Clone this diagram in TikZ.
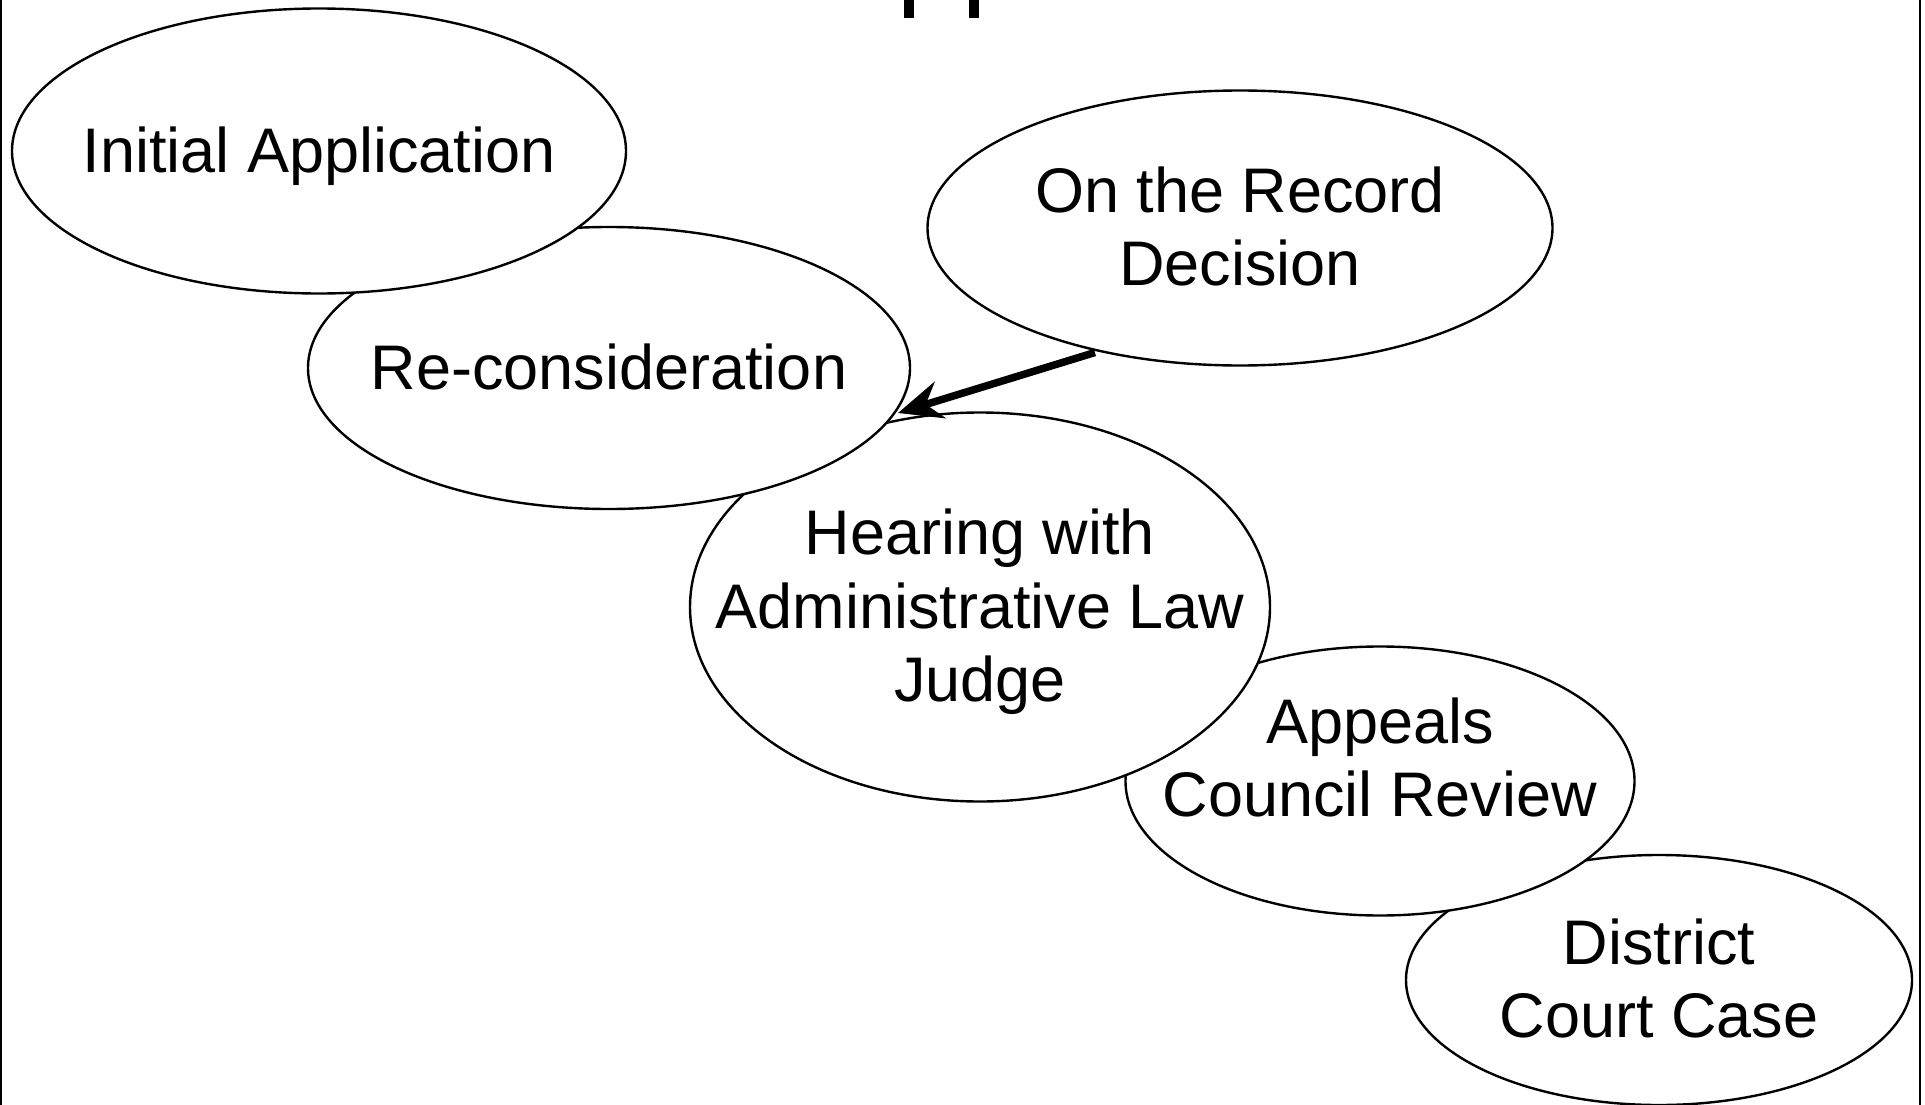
\documentclass[tikz,border=0pt]{standalone}
\usepackage{fontspec}
\setmainfont{Liberation Sans}
\usetikzlibrary{shapes.geometric,arrows.meta}
\newcommand\mytopstrut{\rule{0pt}{62pt}}
\newcommand\mybotstrut{\rule[-20pt]{0pt}{20pt}}
\tikzset{
  stage/.style={ellipse, draw=black, line width=2.4pt, fill=white, inner sep=0pt},
  txt/.style={align=center, font=\fontsize{63}{73.5}\selectfont, inner sep=0pt},
  arr/.style={line width=7.5pt, -{Stealth[length=44pt,width=38pt,inset=15pt]}},
  frameline/.style={line width=2.4pt},
}
\begin{document}
\begin{tikzpicture}[x=1pt,y=-1pt]
\useasboundingbox (0,0) rectangle (1925,1105);
% partial title glyphs at the top edge
\fill (904,0) rectangle (914,18);
\fill (969,0) rectangle (979,18);
% frame sides
\draw[frameline] (1,0) -- (1,1105);
\draw[frameline] (1920,0) -- (1920,1105);
% ellipses, bottom-most first
\node[stage, minimum width=506pt, minimum height=250pt,
  label={[txt]center:\mytopstrut District\\Court Case\mybotstrut}] (dist) at (1659,980) {};
\node[stage, minimum width=509pt, minimum height=269pt,
  label={[txt, yshift=22pt]center:\mytopstrut Appeals\\Council Review\mybotstrut}] (appeals) at (1380,781) {};
\node[stage, minimum width=580pt, minimum height=389pt,
  label={[txt]center:\mytopstrut Hearing with\\Administrative Law\\Judge\mybotstrut}] (hear) at (980,607) {};
\node[stage, minimum width=602pt, minimum height=282pt,
  label={[txt]center:\mytopstrut Re-consideration\mybotstrut}] (recon) at (609,368) {};
\node[stage, minimum width=614pt, minimum height=285pt,
  label={[txt]center:\mytopstrut Initial Application\mybotstrut}] (init) at (319,151) {};
\node[stage, minimum width=625pt, minimum height=275pt,
  label={[txt]center:\mytopstrut On the Record\\Decision\mybotstrut}] (otr) at (1240,228) {};
% arrow
\coordinate (tip) at (898,413);
\draw[arr, shorten <=3pt] (otr.221) -- (tip);
\end{tikzpicture}
\end{document}
